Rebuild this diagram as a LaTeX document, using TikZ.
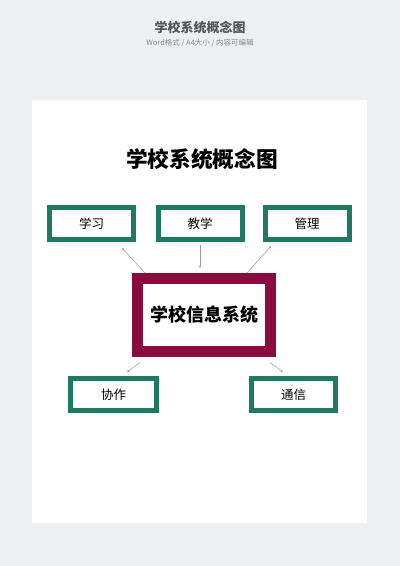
\documentclass[tikz,border=0pt]{standalone}
\usepackage{fontspec}
\newfontfamily\cjk{Noto Sans CJK SC}
\usetikzlibrary{arrows.meta}
\definecolor{bgc}{HTML}{EDEFF3}
\definecolor{boxg}{HTML}{1E7B62}
\definecolor{boxr}{HTML}{8A0B3D}
\definecolor{hdr}{HTML}{555555}
\definecolor{sub}{HTML}{8A8A8A}
\definecolor{lnc}{HTML}{9A9A9A}
\tikzset{
  gbox/.style={draw=boxg, line width=5pt, fill=white, minimum width=84pt, minimum height=32pt, inner sep=0pt, font=\cjk\fontsize{12.5}{14}\selectfont},
  rbox/.style={draw=boxr, line width=11pt, fill=white, minimum width=133pt, minimum height=73pt, inner sep=0pt, font=\cjk\bfseries\fontsize{18}{20}\selectfont},
  link/.style={draw=lnc, line width=0.5pt, -{Stealth[length=2.5pt,width=2pt]}}
}
\begin{document}
\begin{tikzpicture}[x=1pt,y=-1pt]
\fill[bgc] (0,0) rectangle (400,566);
\useasboundingbox (0,0) rectangle (400,566);
\fill[black!6] (31,99) rectangle (368.5,524.5);
\fill[white] (32,100) rectangle (367,523);
\node[font=\cjk\bfseries\fontsize{13}{15}\selectfont, text=hdr] (hd) at (200,28) {学校系统概念图};
\node[font=\cjk\fontsize{7.5}{9}\selectfont, text=sub] (sb) at (200,43) {Word格式 / A4大小 / 内容可编辑};
\node[font=\cjk\bfseries\fontsize{21.7}{24}\selectfont] (tt) at (202,159) {学校系统概念图};
\node[gbox] (xx) at (91.5,223.5) {学习};
\node[gbox] (jx) at (200,223.5) {教学};
\node[gbox] (gl) at (307,223.5) {管理};
\node[rbox] (c) at (204,315) {学校信息系统};
\node[gbox, minimum width=86pt] (xz) at (113.5,394.5) {协作};
\node[gbox] (tx) at (293.5,394.5) {通信};
\coordinate (a1) at (122,248);
\coordinate (a2) at (200,268);
\coordinate (a3) at (271,246);
\coordinate (a4) at (127,372);
\coordinate (a5) at (283,372);
\draw[link] (c.north west) ++(13,0) -- (a1);
\draw[link] (jx.south) ++(0,2.5) -- (a2);
\draw[link] (c.north east) ++(-29,0) -- (a3);
\draw[link] (c.south west) ++(8,5.5) -- (a4);
\draw[link] (c.south east) ++(-6,5.5) -- (a5);
\end{tikzpicture}
\end{document}
